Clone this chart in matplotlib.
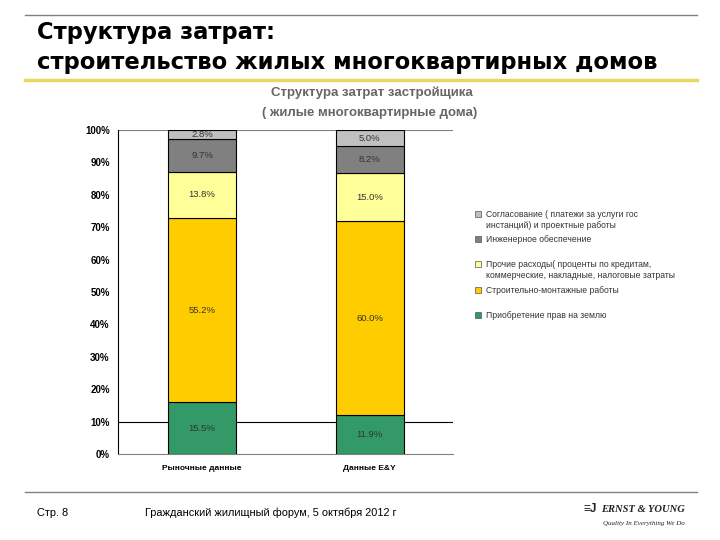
import numpy as np
import matplotlib.pyplot as plt
from matplotlib.patches import Rectangle
from matplotlib.lines import Line2D

categories = ["Рыночные данные", "Данные E&Y"]
series_names = [
    "Приобретение прав на землю",
    "Строительно-монтажные работы",
    "Прочие расходы( проценты по кредитам,\nкоммерческие, накладные, налоговые затраты",
    "Инженерное обеспечение",
    "Согласование ( платежи за услуги гос\nинстанций) и проектные работы",
]
series_colors = ["#339966", "#FFCC00", "#FFFF99", "#808080", "#C0C0C0"]
values_market = [15.5, 55.2, 13.8, 9.7, 2.8]
values_ey = [11.9, 60.0, 15.0, 8.2, 5.0]
y_ticks = [0, 10, 20, 30, 40, 50, 60, 70, 80, 90, 100]

plt.rcParams["font.family"] = ["Liberation Sans", "DejaVu Sans"]

fig = plt.figure(figsize=(7.2, 5.4), dpi=100)

# slide decorations
fig.add_artist(Line2D([25 / 720, 697 / 720], [1 - 15 / 540] * 2, color="#808080", lw=1))
fig.add_artist(Line2D([25 / 720, 697 / 720], [1 - 80 / 540] * 2, color="#E8D860", lw=2.5))
fig.add_artist(Line2D([25 / 720, 697 / 720], [1 - 492 / 540] * 2, color="#808080", lw=1))
fig.text(37 / 720, 1 - 32 / 540, "Структура затрат:", fontsize=16.3, fontweight="bold",
         family="DejaVu Sans", va="center", ha="left")
fig.text(37 / 720, 1 - 62 / 540, "строительство жилых многоквартирных домов", fontsize=16.3,
         fontweight="bold", family="DejaVu Sans", va="center", ha="left")
fig.text(372 / 720, 1 - 93 / 540, "Структура затрат застройщика", fontsize=9.5,
         fontweight="bold", color="#666666", ha="center", va="center")
fig.text(370 / 720, 1 - 113 / 540, "( жилые многоквартирные дома)", fontsize=9.5,
         fontweight="bold", color="#666666", ha="center", va="center")

fig.text(37 / 720, 1 - 513 / 540, "Стр. 8", fontsize=7.9, va="center")
fig.text(145 / 720, 1 - 513 / 540, "Гражданский жилищный форум, 5 октября 2012 г",
         fontsize=7.9, va="center")
fig.text(685 / 720, 1 - 509 / 540, "ERNST & YOUNG", fontsize=7.6, family="Liberation Serif",
         fontstyle="italic", fontweight="bold", color="#222222", ha="right", va="center")
fig.text(597 / 720, 1 - 509 / 540, "\u2261J", fontsize=8.5, fontweight="bold",
         color="#222222", ha="right", va="center")
fig.text(685 / 720, 1 - 523 / 540, "Quality In Everything We Do", fontsize=5,
         family="Liberation Serif", fontstyle="italic", color="#222222", ha="right", va="center")

ax = fig.add_axes([118 / 720, 1 - 454 / 540, 335 / 720, 324 / 540])

data = np.array([values_market, values_ey]).T
totals = data.sum(axis=0)
shares = data / totals * 100
x = np.arange(len(categories))
bottom = np.zeros(len(categories))
for i in range(len(series_names)):
    ax.bar(x, shares[i], 0.406, bottom=bottom, color=series_colors[i],
           edgecolor="black", linewidth=0.8, zorder=3)
    for j in range(len(categories)):
        ax.text(x[j], bottom[j] + shares[i][j] / 2, f"{data[i][j]:.1f}%", fontsize=6.8,
                ha="center", va="center", color="#333333", zorder=4)
    bottom += shares[i]

ax.axhline(10, color="black", lw=0.8, zorder=1)
ax.axhline(100, color="#808080", lw=0.8, zorder=1)
ax.set_xlim(-0.501, 1.498)
ax.set_ylim(0, 100)
ax.set_yticks(y_ticks)
ax.set_yticklabels([f"{t}%" for t in y_ticks], fontsize=7, fontweight="bold")
ax.set_xticks(x)
ax.set_xticklabels(categories, fontsize=6, fontweight="bold")
ax.tick_params(axis="y", length=0, pad=6)
ax.tick_params(axis="x", length=0, pad=8)
for s in ["top", "right"]:
    ax.spines[s].set_visible(False)
ax.spines["left"].set_color("black")
ax.spines["left"].set_linewidth(0.8)
ax.spines["bottom"].set_color("#808080")
ax.spines["bottom"].set_linewidth(0.8)

# legend, top to bottom
legend_y = [214, 239, 264, 290, 315]
for k, yy in enumerate(legend_y):
    i = len(series_names) - 1 - k
    fig.add_artist(Rectangle((475 / 720, 1 - (yy + 3) / 540), 6 / 720, 6 / 540,
                             facecolor=series_colors[i], edgecolor="#555555", lw=0.5))
    fig.text(486 / 720, 1 - (yy - 4) / 540, series_names[i], fontsize=6.2, color="#333333",
             va="top", ha="left", linespacing=1.35)

fig.savefig("out.png", dpi=100)
